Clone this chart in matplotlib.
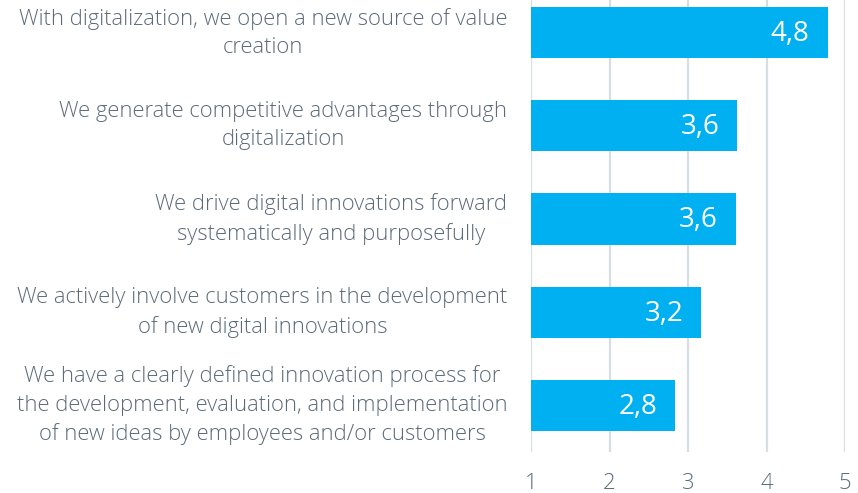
import matplotlib
matplotlib.use("Agg")
import matplotlib.pyplot as plt

categories = [
    "With digitalization, we open a new source of value\ncreation",
    "We generate competitive advantages through\ndigitalization",
    "We drive digital innovations forward\nsystematically and purposefully",
    "We actively involve customers in the development\nof new digital innovations",
    "We have a clearly defined innovation process for\nthe development, evaluation, and implementation\nof new ideas by employees and/or customers",
]
values = [4.78, 3.63, 3.61, 3.17, 2.84]
value_labels = ["4,8", "3,6", "3,6", "3,2", "2,8"]
xticks = [1, 2, 3, 4, 5]

plt.rcParams['font.family'] = ['Open Sans', 'DejaVu Sans']
text_color = "#5b6b78"
bar_color = "#00b0f0"
grid_color = "#d6dee4"

fig = plt.figure(figsize=(8.58, 4.93), dpi=100)
ax = fig.add_axes([531/858, 1 - 452/493, (845 - 531)/858, 452/493])

ypos = list(range(len(categories)))
ax.barh(ypos, [v - 1 for v in values], left=1, height=0.55, color=bar_color, zorder=3)

for y, v, lab in zip(ypos, values, value_labels):
    ax.annotate(lab, xy=(v, y), xytext=(-13, -1), textcoords="offset points",
                ha="right", va="center", color="white", fontsize=20, zorder=4)

ax.set_xlim(1, 5)
ax.set_ylim(4.5, -0.35)
ax.set_xticks(xticks)
ax.set_xticklabels([str(t) for t in xticks])
ax.set_yticks(ypos)
ax.set_yticklabels(categories, multialignment="center", linespacing=1.45)
ax.tick_params(axis="both", length=0, labelsize=15.8, colors=text_color)
ax.tick_params(axis="x", pad=15)
ax.tick_params(axis="y", pad=17)
for t in ax.get_yticklabels():
    t.set_fontweight("light")
    t.set_va("center")
for t in ax.get_xticklabels():
    t.set_fontweight("light")

for x in xticks:
    ax.axvline(x, color=grid_color, lw=1.6, zorder=1)

for s in ax.spines.values():
    s.set_visible(False)

fig.savefig("out.png", dpi=100)
